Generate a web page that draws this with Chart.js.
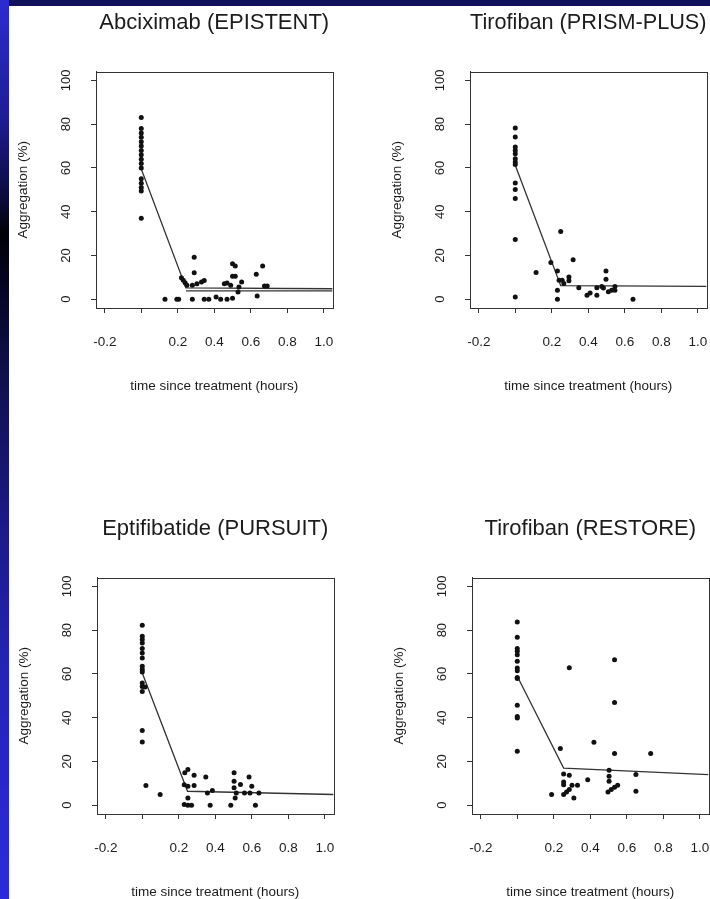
<!DOCTYPE html>
<html>
<head>
<meta charset="utf-8">
<script src="https://cdn.jsdelivr.net/npm/chart.js@4.4.1/dist/chart.umd.min.js"></script>
<style>
  body { margin: 0; width: 710px; height: 899px; overflow: hidden; background: #fff; position: relative; }
  #leftbar { position: absolute; left: 0; top: 0; width: 9px; height: 899px;
    background: linear-gradient(to bottom, #2c2cd2 0%, #1d1d96 13%, #0b0b3c 22%, #000008 26%, #050524 32%, #10104e 42%, #1a1a86 58%, #2424b8 75%, #2b2bdc 100%); }
  #topbar { position: absolute; left: 9px; top: 0; width: 701px; height: 6px; background: #11115a; }
  canvas { position: absolute; }
</style>
</head>
<body>
<div id="leftbar"></div>
<div id="topbar"></div>
<canvas id="p1" width="346" height="400" style="left:9px;top:6px"></canvas>
<canvas id="p2" width="346" height="400" style="left:383px;top:6px"></canvas>
<canvas id="p3" width="346" height="400" style="left:10px;top:512px"></canvas>
<canvas id="p4" width="346" height="400" style="left:385px;top:512px"></canvas>
<script>
// tick values and labels (R drops the 0.0 label)
const xTickVals = [-0.2, 0, 0.2, 0.4, 0.6, 0.8, 1.0];
const xTickLabels = ['-0.2', '', '0.2', '0.4', '0.6', '0.8', '1.0'];
const yTickVals = [0, 20, 40, 60, 80, 100];
const yTickLabels = ['0', '20', '40', '60', '80', '100'];

// Abciximab (EPISTENT)
const abcTime = [0, 0, 0, 0, 0, 0, 0, 0, 0, 0, 0, 0, 0, 0, 0, 0,
  0.13, 0.195, 0.205, 0.28, 0.345, 0.37, 0.41, 0.435, 0.47, 0.5, 0.635,
  0.22, 0.23, 0.24, 0.25, 0.29, 0.29, 0.305, 0.33, 0.345, 0.28,
  0.455, 0.47, 0.49, 0.5, 0.515, 0.5, 0.515, 0.535, 0.55, 0.53,
  0.63, 0.665, 0.675, 0.69];
const abcAgg = [83, 78, 76, 74, 72, 70, 68, 66, 64, 62, 60, 55, 53, 51, 49.5, 37,
  0, 0, 0, 0, 0, 0, 1, 0, 0, 0.5, 1.5,
  9.8, 8.7, 7.5, 6.4, 19.2, 12.1, 7.1, 7.9, 8.6, 6.4,
  7.1, 7.4, 6.4, 16.2, 15.2, 10.5, 10.5, 5.6, 7.9, 3.3,
  11.4, 15.2, 6.1, 6.1];
const abcFitTime = [0, 0.245, 1.048];
const abcFitAgg = [59.5, 5.2, 4.8];
const abcFit2Time = [0.245, 1.048];
const abcFit2Agg = [3.8, 3.8];

// Tirofiban (PRISM-PLUS)
const prismTime = [0, 0, 0, 0, 0, 0, 0, 0, 0, 0, 0, 0, 0,
  0.114, 0.195, 0.231, 0.231, 0.231, 0.249, 0.24, 0.257, 0.266, 0.294, 0.294, 0.317,
  0.348, 0.393, 0.41, 0.447, 0.447, 0.474, 0.483, 0.497, 0.497, 0.51, 0.528, 0.546, 0.546, 0.645];
const prismAgg = [78.2, 74.1, 69.5, 68, 66.5, 64.2, 62.7, 61.6, 53.1, 50.1, 46, 27.3, 1,
  12.2, 16.8, 12.9, 4.1, 0, 31, 8.7, 8.7, 7.2, 10.2, 8.4, 18.1,
  5.2, 1.8, 2.8, 1.8, 5.2, 5.8, 5.1, 12.9, 9.1, 3.4, 4.1, 5.8, 4.1, 0];
const prismFitTime = [0, 0.249, 1.048];
const prismFitAgg = [61.2, 6.2, 5.9];

// Eptifibatide (PURSUIT)
const pursuitTime = [0, 0, 0, 0, 0, 0, 0, 0, 0, 0, 0, 0, 0, 0, 0, 0.015,
  0.02, 0.098,
  0.23, 0.25, 0.27, 0.233, 0.25, 0.284, 0.23, 0.25, 0.284, 0.25,
  0.348, 0.357, 0.384, 0.372, 0.485,
  0.503, 0.503, 0.503, 0.509, 0.515, 0.538, 0.56, 0.585, 0.6, 0.59, 0.62, 0.639];
const pursuitAgg = [82.2, 77.2, 75.7, 74.1, 71.6, 69.5, 67.3, 63.5, 62, 60.9, 55.9, 54.3, 52, 34.1, 28.9, 54,
  9, 4.9,
  0.3, 0, 0, 14.8, 16.3, 13.7, 9.4, 8.7, 9, 3.3,
  12.9, 5.6, 6.7, 0, 0,
  14.8, 11, 8, 3.3, 5.6, 9.5, 5.6, 12.9, 8.7, 5.6, 0, 5.6];
const pursuitFitTime = [0, 0.248, 1.048];
const pursuitFitAgg = [60.4, 6.4, 4.9];

// Tirofiban (RESTORE)
const restoreTime = [0, 0, 0, 0, 0, 0, 0, 0, 0, 0, 0, 0, 0, 0,
  0.285, 0.533, 0.533, 0.236, 0.42, 0.533, 0.731,
  0.254, 0.285, 0.254, 0.254, 0.386, 0.503, 0.503, 0.503, 0.65, 0.65,
  0.188, 0.254, 0.27, 0.285, 0.3, 0.31, 0.33, 0.497, 0.515, 0.533, 0.55];
const restoreAgg = [83.7, 76.7, 71.6, 70.3, 68.8, 65.8, 62.7, 61.5, 58.4, 57.9, 45.7, 40.6, 39.9, 24.7,
  62.8, 66.5, 46.9, 25.9, 28.8, 23.6, 23.6,
  14.3, 13.7, 10.6, 9.4, 11.7, 16, 13.2, 11, 14, 6.4,
  4.9, 4.9, 6.1, 7.2, 9.1, 3.3, 9.1, 6.1, 7.2, 8.2, 9.1];
const restoreFitTime = [0, 0.254, 1.048];
const restoreFitAgg = [58.9, 17, 14];

const FONT = 'Liberation Sans, Arial, Helvetica, sans-serif';
const INK = '#1c1c1c';

function toXY(xs, ys) {
    return xs.map((x, i) => ({ x: x, y: ys[i] }));
}

// closes the R-style box around the plotting region
const boxPlugin = {
    id: 'box',
    afterDraw(chart) {
        const a = chart.chartArea;
        const ctx = chart.ctx;
        ctx.save();
        ctx.strokeStyle = '#333';
        ctx.lineWidth = 1;
        ctx.strokeRect(Math.round(a.left) + 0.5, Math.round(a.top) + 0.5,
            Math.round(a.right - a.left), Math.round(a.bottom - a.top));
        ctx.restore();
    }
};

function makePanel(id, title, times, aggs, fits) {
    const datasets = [{
        type: 'scatter',
        data: toXY(times, aggs),
        pointRadius: 2.5,
        pointBackgroundColor: '#111',
        pointBorderWidth: 0
    }];
    fits.forEach(f => {
        datasets.push({
            type: 'line',
            data: toXY(f[0], f[1]),
            borderColor: '#333',
            borderWidth: 1.3,
            pointRadius: 0,
            fill: false,
            tension: 0
        });
    });

    new Chart(document.getElementById(id), {
        data: { datasets: datasets },
        options: {
            responsive: false,
            animation: false,
            events: [],
            layout: { padding: { left: 0, top: 0, right: 22, bottom: 0 } },
            plugins: {
                legend: { display: false },
                tooltip: { enabled: false },
                title: {
                    display: true,
                    text: title,
                    fullSize: false,
                    color: INK,
                    font: { family: FONT, size: 22, weight: 'normal' },
                    padding: { top: 3.4, bottom: 35.8 }
                }
            },
            scales: {
                x: {
                    type: 'linear',
                    min: -0.248,
                    max: 1.048,
                    afterBuildTicks: s => { s.ticks = xTickVals.map(v => ({ value: v })); },
                    afterFit: s => { s.height = 98; },
                    ticks: {
                        callback: (v, i) => xTickLabels[i],
                        autoSkip: false,
                        maxRotation: 0,
                        padding: 21,
                        color: INK,
                        font: { family: FONT, size: 13.5 }
                    },
                    grid: { drawOnChartArea: false, tickLength: 5, color: '#333' },
                    border: { color: '#333' },
                    title: {
                        display: true,
                        text: 'time since treatment (hours)',
                        color: INK,
                        font: { family: FONT, size: 13.5 },
                        padding: { top: 0, bottom: 12 }
                    }
                },
                y: {
                    type: 'linear',
                    min: -4,
                    max: 104,
                    afterBuildTicks: s => { s.ticks = yTickVals.map(v => ({ value: v })); },
                    afterFit: s => { s.width = 87; },
                    ticks: {
                        callback: (v, i) => yTickLabels[i],
                        minRotation: 90,
                        maxRotation: 90,
                        crossAlign: 'center',
                        padding: 14,
                        color: INK,
                        font: { family: FONT, size: 13 }
                    },
                    grid: { drawOnChartArea: false, tickLength: 5, color: '#333' },
                    border: { color: '#333' },
                    title: {
                        display: true,
                        text: 'Aggregation (%)',
                        color: INK,
                        font: { family: FONT, size: 13.5 },
                        padding: { top: 6.4, bottom: 0 }
                    }
                }
            }
        },
        plugins: [boxPlugin]
    });
}

makePanel('p1', 'Abciximab (EPISTENT)', abcTime, abcAgg,
    [[abcFitTime, abcFitAgg], [abcFit2Time, abcFit2Agg]]);
makePanel('p2', 'Tirofiban (PRISM-PLUS)', prismTime, prismAgg,
    [[prismFitTime, prismFitAgg]]);
makePanel('p3', 'Eptifibatide (PURSUIT)', pursuitTime, pursuitAgg,
    [[pursuitFitTime, pursuitFitAgg]]);
makePanel('p4', 'Tirofiban (RESTORE)', restoreTime, restoreAgg,
    [[restoreFitTime, restoreFitAgg]]);
</script>
</body>
</html>
